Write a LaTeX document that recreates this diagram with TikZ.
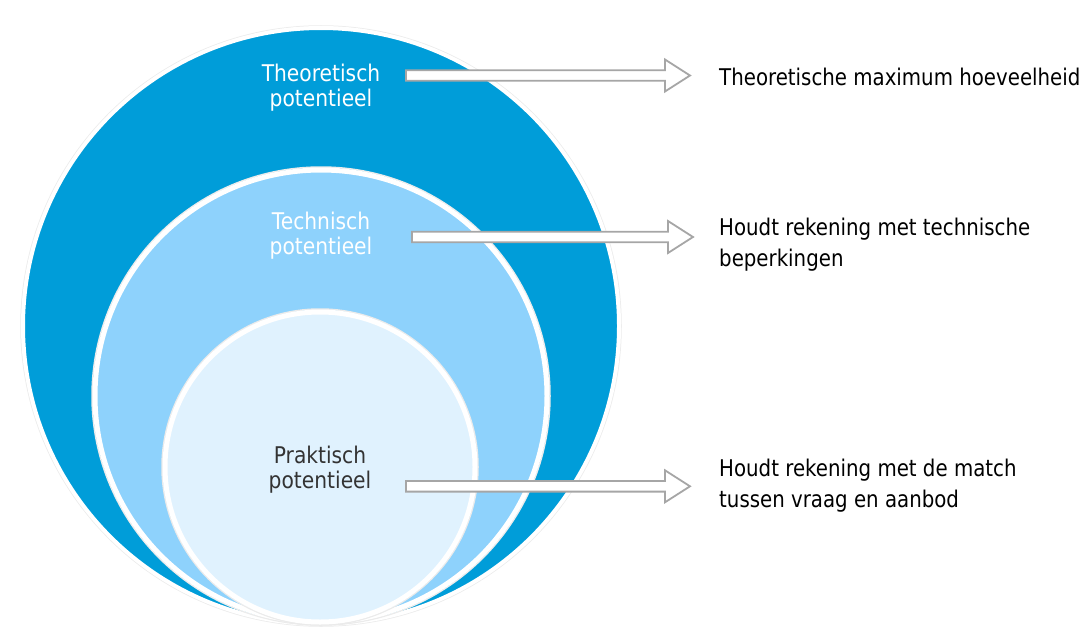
\documentclass[tikz,border=0pt]{standalone}
\usepackage{fontspec}
\setmainfont{DejaVu Sans}
\newfontfamily\condfont[FakeStretch=0.88]{DejaVu Sans}
\newfontfamily\descfont[FakeStretch=0.86]{DejaVu Sans}
\usetikzlibrary{calc}
\definecolor{outerblue}{RGB}{0,157,217}
\definecolor{midblue}{RGB}{142,210,252}
\definecolor{innerblue}{RGB}{224,242,254}
\definecolor{arrowgray}{RGB}{166,166,166}
\definecolor{darktext}{RGB}{51,51,51}
\tikzset{
  ring/.style={draw=white, line width=5pt},
  shadowring/.style={draw=black!8, line width=1.5pt},
  circlabel/.style={font=\condfont\fontsize{23}{25}\selectfont, align=center, inner sep=0pt},
  desc/.style={font=\descfont\fontsize{23}{31}\selectfont, align=left, anchor=west, inner sep=0pt, text=black},
  barrow/.style={draw=arrowgray, fill=white, line width=1.8pt, line join=miter}
}
\begin{document}
\begin{tikzpicture}[x=1pt,y=-1pt]
\useasboundingbox (0,0) rectangle (1091,626);
% circles
\coordinate (oc) at (321,326);
\coordinate (mc) at (321,396);
\coordinate (ic) at (320,467);
\draw[shadowring] (oc) circle[radius=300];
\fill[outerblue] (oc) circle[radius=297];
\draw[ring, line width=4pt] (oc) circle[radius=298];
\draw[shadowring] (mc) circle[radius=229];
\fill[midblue] (mc) circle[radius=226];
\draw[ring] (mc) circle[radius=226];
\draw[shadowring] (ic) circle[radius=158];
\fill[innerblue] (ic) circle[radius=155];
\draw[ring] (ic) circle[radius=155];
% labels in circles
\node[circlabel, text=white] (theo) at (321,88) {Theoretisch\\potentieel};
\node[circlabel, text=white] (tech) at (321,236) {Technisch\\potentieel};
\node[circlabel, text=darktext] (prak) at (320,470) {Praktisch\\potentieel};
% arrows
\coordinate (a1s) at (406,75.5);  \coordinate (a1e) at (690,75.5);
\coordinate (a2s) at (412,237);   \coordinate (a2e) at (693,237);
\coordinate (a3s) at (406,486.3); \coordinate (a3e) at (690,486.3);
\foreach \s/\e in {a1s/a1e, a2s/a2e, a3s/a3e}{
  \draw[barrow] ($(\s)+(0,-5.3)$) -- ($(\e)+(-25,-5.3)$) -- ($(\e)+(-25,-16)$) -- (\e)
     -- ($(\e)+(-25,16)$) -- ($(\e)+(-25,5.3)$) -- ($(\s)+(0,5.3)$) -- cycle;
}
% descriptions
\node[desc] (d1) at (719,77) {Theoretische maximum hoeveelheid};
\node[desc] (d2) at (719,245) {Houdt rekening met technische\\beperkingen};
\node[desc] (d3) at (719,485.5) {Houdt rekening met de match\\tussen vraag en aanbod};
\end{tikzpicture}
\end{document}
